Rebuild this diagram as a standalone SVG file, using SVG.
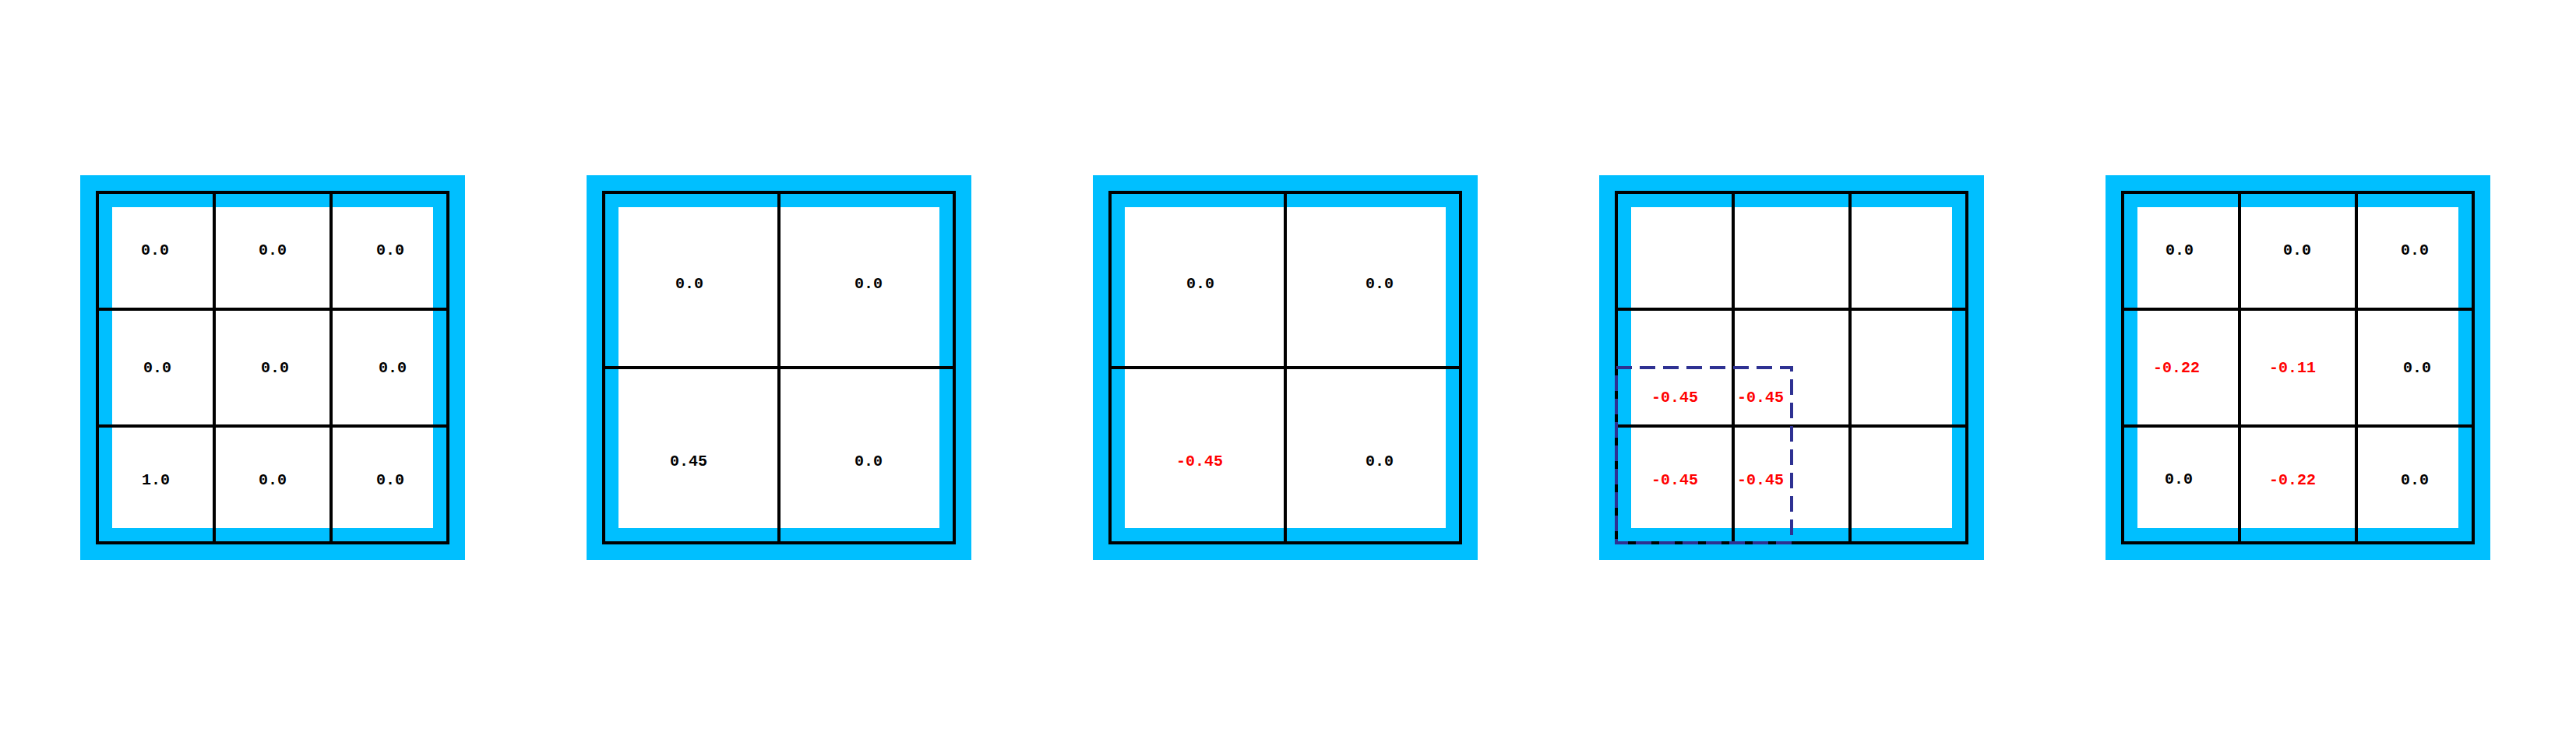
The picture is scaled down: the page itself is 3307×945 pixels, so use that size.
<svg xmlns="http://www.w3.org/2000/svg" width="3307" height="945" viewBox="0 0 3307 945">
<style>
.frame{fill:#00BFFF}
.inner{fill:#FFFFFF}
.grid{fill:none;stroke:#000000;stroke-width:4}
.gl{stroke:#000000;stroke-width:4}
.t{font-family:"Liberation Mono","DejaVu Sans Mono",monospace;font-size:20px;font-weight:bold;text-anchor:middle;fill:#000000}
.r{fill:#FF0000}
.dash{fill:none;stroke:#2E3192;stroke-width:4;stroke-dasharray:20 10}
</style>
<rect width="3307" height="945" fill="#FFFFFF"/>
<defs>
<g id="base">
<rect class="frame" x="103" y="225" width="494" height="494"/>
<rect class="inner" x="144" y="266" width="412" height="412"/>
<rect class="grid" x="125" y="247" width="450" height="450"/>
</g>
<g id="g3">
<use href="#base"/>
<line class="gl" x1="275" y1="247" x2="275" y2="697"/>
<line class="gl" x1="425" y1="247" x2="425" y2="697"/>
<line class="gl" x1="125" y1="397" x2="575" y2="397"/>
<line class="gl" x1="125" y1="547" x2="575" y2="547"/>
</g>
<g id="g2">
<use href="#base"/>
<line class="gl" x1="350" y1="247" x2="350" y2="697"/>
<line class="gl" x1="125" y1="472" x2="575" y2="472"/>
</g>
</defs>
<g id="panel1">
<use href="#g3"/>
<text class="t" x="199" y="327">0.0</text>
<text class="t" x="350" y="327">0.0</text>
<text class="t" x="501" y="327">0.0</text>
<text class="t" x="202" y="478">0.0</text>
<text class="t" x="353" y="478">0.0</text>
<text class="t" x="504" y="478">0.0</text>
<text class="t" x="200" y="622">1.0</text>
<text class="t" x="350" y="622">0.0</text>
<text class="t" x="501" y="622">0.0</text>
</g>
<g id="panel2" transform="translate(650,0)">
<use href="#g2"/>
<text class="t" x="235" y="370">0.0</text>
<text class="t" x="465" y="370">0.0</text>
<text class="t" x="234" y="598">0.45</text>
<text class="t" x="465" y="598">0.0</text>
</g>
<g id="panel3" transform="translate(1300,0)">
<use href="#g2"/>
<text class="t" x="241" y="370">0.0</text>
<text class="t" x="471" y="370">0.0</text>
<text class="t r" x="240" y="598">-0.45</text>
<text class="t" x="471" y="598">0.0</text>
</g>
<g id="panel4" transform="translate(1950,0)">
<use href="#g3"/>
<text class="t r" x="200" y="516">-0.45</text>
<text class="t r" x="310" y="516">-0.45</text>
<text class="t r" x="200" y="622">-0.45</text>
<text class="t r" x="310" y="622">-0.45</text>
<rect class="dash" x="125" y="472" width="225" height="225"/>
</g>
<g id="panel5" transform="translate(2600,0)">
<use href="#g3"/>
<text class="t" x="198" y="327">0.0</text>
<text class="t" x="349" y="327">0.0</text>
<text class="t" x="500" y="327">0.0</text>
<text class="t r" x="194" y="478">-0.22</text>
<text class="t r" x="343" y="478">-0.11</text>
<text class="t" x="503" y="478">0.0</text>
<text class="t" x="197" y="621">0.0</text>
<text class="t r" x="343" y="622">-0.22</text>
<text class="t" x="500" y="622">0.0</text>
</g>
<g id="connectors"/>
</svg>
